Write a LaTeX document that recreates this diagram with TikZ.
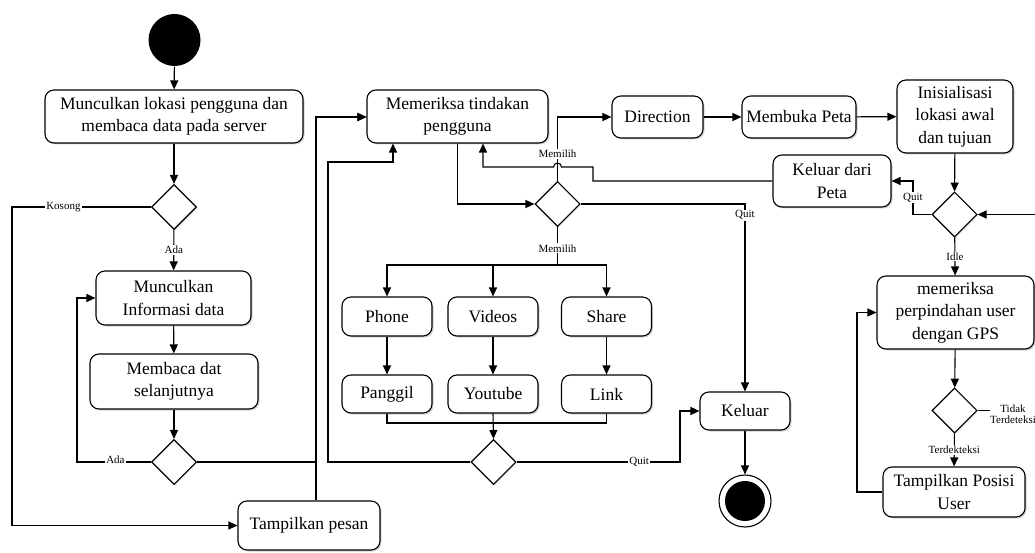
\documentclass[tikz,border=0pt]{standalone}
\usepackage{fontspec}
\setmainfont{Liberation Serif}
\usetikzlibrary{arrows.meta,shapes.geometric,shadows}
\begin{document}
\begin{tikzpicture}[x=1pt,y=-1pt,
  line width=1.1pt,
  act/.style={draw,fill=white,rounded corners=9pt,align=center,inner sep=2pt,
    font=\fontsize{17.5}{22.5}\selectfont,
    drop shadow={shadow xshift=1.5pt,shadow yshift=-1.5pt,opacity=0.3,fill=black!60}},
  dec/.style={draw,fill=white,shape=diamond,minimum width=45pt,minimum height=45pt,inner sep=0pt,
    drop shadow={shadow xshift=1.2pt,shadow yshift=-1.2pt,opacity=0.25,fill=black!60}},
  lbl/.style={fill=white,inner sep=1pt,font=\fontsize{11}{12}\selectfont,align=center},
  arr/.style={-{Triangle[length=9pt,width=8pt]}}]
\useasboundingbox (0,0) rectangle (1035,553);

% start and end states
\node[circle,fill=black,minimum size=52pt,inner sep=0pt] (start) at (174.5,40) {};
\node[circle,draw,fill=white,minimum size=52pt,inner sep=0pt] (final) at (745,501) {};
\node[circle,fill=black,minimum size=40pt,inner sep=0pt] (finalin) at (745,501) {};

% left column
\node[act,minimum width=258pt,minimum height=53pt] (b1) at (174,116.5) {Munculkan lokasi pengguna dan\\membaca data pada server};
\node[dec] (d1) at (174,207) {};
\node[act,minimum width=155pt,minimum height=54pt] (b2) at (173.5,298) {Munculkan\\Informasi data};
\node[act,minimum width=168pt,minimum height=55pt] (b3) at (174,381.5) {Membaca dat\\selanjutnya};
\node[dec] (d2) at (174,462) {};
\node[act,minimum width=142pt,minimum height=49pt] (pesan) at (309,525.5) {Tampilkan pesan};

% middle
\node[act,minimum width=181pt,minimum height=53pt] (cek) at (457.5,116.5) {Memeriksa tindakan\\pengguna};
\node[dec] (dm) at (557.5,204) {};
\node[act,minimum width=90pt,minimum height=39pt] (phone) at (387,316.5) {Phone};
\node[act,minimum width=90pt,minimum height=39pt] (videos) at (493,316.5) {Videos};
\node[act,minimum width=90pt,minimum height=39pt] (share) at (606.5,316.5) {Share};
\node[act,minimum width=90pt,minimum height=38pt] (panggil) at (387,394) {Panggil};
\node[act,minimum width=90pt,minimum height=38pt] (youtube) at (493,394) {Youtube};
\node[act,minimum width=90pt,minimum height=38pt] (link) at (606.5,394) {Link};
\node[dec] (db) at (493.5,462) {};
\node[act,minimum width=90pt,minimum height=38pt] (keluar) at (745,411) {Keluar};

% map branch
\node[act,minimum width=91pt,minimum height=42pt] (dir) at (657.5,117) {Direction};
\node[act,minimum width=114pt,minimum height=42pt] (peta) at (799,117) {Membuka Peta};
\node[act,minimum width=116pt,minimum height=73pt] (init) at (955,116.5) {Inisialisasi\\lokasi awal\\dan tujuan};
\node[act,minimum width=118pt,minimum height=52pt] (kdp) at (832,181) {Keluar dari\\Peta};
\node[dec] (dr) at (954.5,214.5) {};
\node[act,minimum width=157pt,minimum height=73pt] (gps) at (955.5,312.5) {memeriksa\\perpindahan user\\dengan GPS};
\node[dec] (dt) at (954.5,410.5) {};
\node[act,minimum width=142pt,minimum height=50pt] (posisi) at (954,492) {Tampilkan Posisi\\User};

% routing points
\coordinate (jx) at (316,117);
\coordinate (kx) at (12,207);
\coordinate (ax) at (77,462);
\coordinate (fork) at (557.5,265);
\coordinate (mergey) at (493,423);
\coordinate (bx) at (328,462);
\coordinate (by) at (393,162);
\coordinate (qx) at (680,462);
\coordinate (rx) at (913,214.5);
\coordinate (ry) at (593,181);
\coordinate (rz) at (483,167);
\coordinate (lx) at (857,492);
\coordinate (ex) at (1045,410.5);

% left column flow
\draw[arr] (start) -- (b1);
\draw[arr] (b1) -- (d1);
\draw[arr] (d1) -- node[lbl]{Ada} (b2);
\draw[arr] (d1.west) -- node[lbl,pos=.63]{Kosong} (kx) |- (pesan.west);
\draw[arr] (b2) -- (b3);
\draw[arr] (b3) -- (d2);
\draw[arr] (d2.west) -- node[lbl,pos=.48,yshift=2pt]{Ada} (ax) |- (b2.west);
\draw[arr] (d2.east) -| (jx) -- (cek.west |- jx);
\draw[arr] (pesan.north -| jx) -- (jx) -- (cek.west |- jx);

% user action choice
\draw[arr] (cek.south) |- (dm.west);
\draw[arr] (dm.north) -- node[lbl,pos=.42]{Memilih} (dm.north |- dir.west) -- (dir.west);
\draw[arr] (dm.east) -| node[lbl,pos=.53]{Quit} (keluar.north);
\draw (dm.south) -- node[lbl,pos=.56]{Memilih} (fork);
\draw[arr] (fork) -| (phone.north);
\draw[arr] (fork) -| (videos.north);
\draw[arr] (fork) -| (share.north);
\draw[arr] (phone) -- (panggil);
\draw[arr] (videos) -- (youtube);
\draw[arr] (share) -- (link);
\draw (panggil.south) -- (panggil.south |- mergey) -- (link.south |- mergey) -- (link.south);
\draw[arr] (youtube.south) -- (db.north);
\draw[arr] (db.west) -- (bx) -- (bx |- by) -- (by) -- (by |- cek.south);
\draw[arr] (db.east) -- node[lbl,pos=.75]{Quit} (qx) |- (keluar.west);
\draw[arr] (keluar) -- (final);

% map flow
\draw[arr] (dir) -- (peta);
\draw[arr] (peta) -- (init);
\draw[arr] (init) -- (dr);
\draw[arr] (dr.west) -- (rx) -- node[lbl]{Quit} (rx |- kdp.east) -- (kdp.east);
\draw[arr] (kdp.west) -- (ry) -- (ry |- rz) -- ([xshift=4pt]dm.north |- rz) arc (0:-180:4) -- (rz) -- (rz |- cek.south);
\draw[arr] (dr) -- node[lbl]{Idle} (gps);
\draw[arr] (gps) -- (dt);
\draw[arr] (dt) -- node[lbl]{Terdekteksi} (posisi);
\draw[arr] (posisi.west) -- (lx) |- (gps.west);
\draw[arr] (dt.east) -- (ex) -- (ex |- dr.east) -- (dr.east);
\node[lbl,inner sep=0.5pt] (tdk) at (1013,414) {Tidak\\[-1pt]Terdeteksi};
\end{tikzpicture}
\end{document}
